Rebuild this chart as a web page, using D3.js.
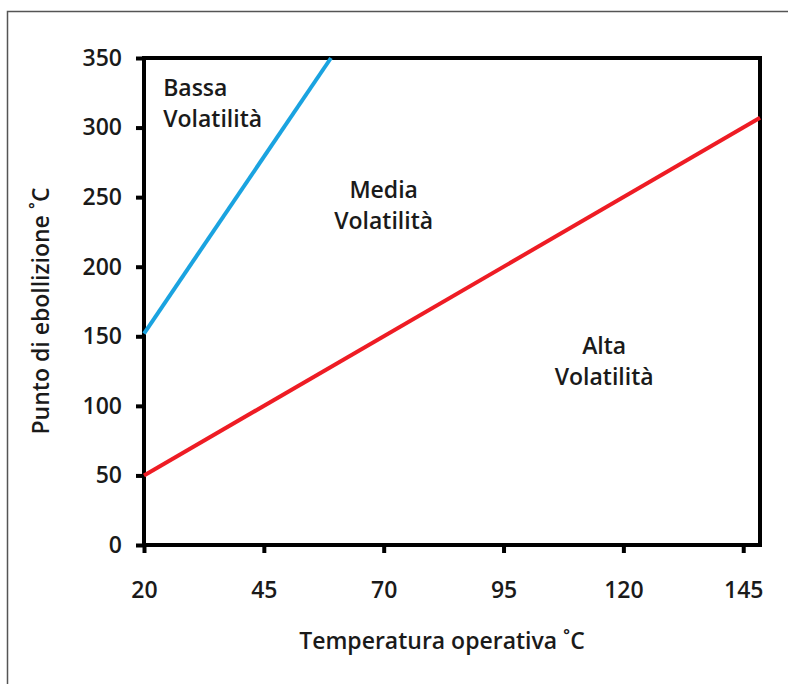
<!DOCTYPE html>
<html><head><meta charset="utf-8">
<script src="https://cdn.jsdelivr.net/npm/d3@7"></script>
<style>
html,body{margin:0;padding:0;background:#fff;}
svg{display:block;}
</style></head>
<body>
<svg id="chart" width="788" height="684"></svg>
<script>
const xTicks = [20, 45, 70, 95, 120, 145];
const yTicks = [0, 50, 100, 150, 200, 250, 300, 350];
const xDomain = [20, 148.5];
const yDomain = [0, 350];
const blueLine = [[20, 152], [59, 350]];
const redLine = [[20, 50], [148.5, 307]];
const regionLabels = [
  {lines: ["Bassa", "Volatilità"], x: 24, y: 323, anchor: "start"},
  {lines: ["Media", "Volatilità"], x: 70, y: 249.5, anchor: "middle"},
  {lines: ["Alta", "Volatilità"], x: 116, y: 137, anchor: "middle"}
];
const xTitle = "Temperatura operativa ˚C";
const yTitle = "Punto di ebollizione ˚C";

const svg = d3.select("#chart");
const font = "'Open Sans', sans-serif";
const fs = 23;
const m = {left: 144, right: 760, top: 58, bottom: 545};

// outer frame
svg.append("path").attr("d", "M7.5,684 L7.5,11.5 L788,11.5")
  .attr("fill", "none").attr("stroke", "#555").attr("stroke-width", 1.5);

const x = d3.scaleLinear().domain(xDomain).range([m.left, m.right]);
const y = d3.scaleLinear().domain(yDomain).range([m.bottom, m.top]);

// plot box
svg.append("rect").attr("x", m.left).attr("y", m.top)
  .attr("width", m.right - m.left).attr("height", m.bottom - m.top)
  .attr("fill", "none").attr("stroke", "#000").attr("stroke-width", 4);

const xAxis = svg.append("g").attr("transform", `translate(0,${m.bottom})`)
  .call(d3.axisBottom(x).tickValues(xTicks).tickSize(8).tickPadding(29).tickSizeOuter(0));
const yAxis = svg.append("g").attr("transform", `translate(${m.left},0)`)
  .call(d3.axisLeft(y).tickValues(yTicks).tickSize(8).tickPadding(14).tickSizeOuter(0));
[xAxis, yAxis].forEach(g => {
  g.select(".domain").remove();
  g.selectAll(".tick line").attr("stroke", "#000").attr("stroke-width", 4);
  g.selectAll("text").attr("font-family", font).attr("font-size", fs)
    .attr("font-weight", 600).attr("fill", "#1a1a1a");
});

const line = d3.line().x(d => x(d[0])).y(d => y(d[1]));
svg.append("path").datum(blueLine).attr("d", line)
  .attr("fill", "none").attr("stroke", "#1aa3e0").attr("stroke-width", 4);
svg.append("path").datum(redLine).attr("d", line)
  .attr("fill", "none").attr("stroke", "#ee1c24").attr("stroke-width", 4);

regionLabels.forEach(r => {
  const t = svg.append("text").attr("x", x(r.x)).attr("y", y(r.y))
    .attr("text-anchor", r.anchor).attr("font-family", font)
    .attr("font-size", fs).attr("font-weight", 600).attr("fill", "#1a1a1a");
  r.lines.forEach((l, i) => {
    t.append("tspan").attr("x", x(r.x)).attr("dy", i === 0 ? 0 : 31).text(l);
  });
});

svg.append("text").attr("x", 442).attr("y", 649).attr("text-anchor", "middle")
  .attr("font-family", font).attr("font-size", fs).attr("font-weight", 600)
  .attr("fill", "#1a1a1a").text(xTitle);
svg.append("text").attr("transform", "translate(49,311) rotate(-90)")
  .attr("text-anchor", "middle")
  .attr("font-family", font).attr("font-size", fs).attr("font-weight", 600)
  .attr("fill", "#1a1a1a").text(yTitle);
</script>
</body></html>
